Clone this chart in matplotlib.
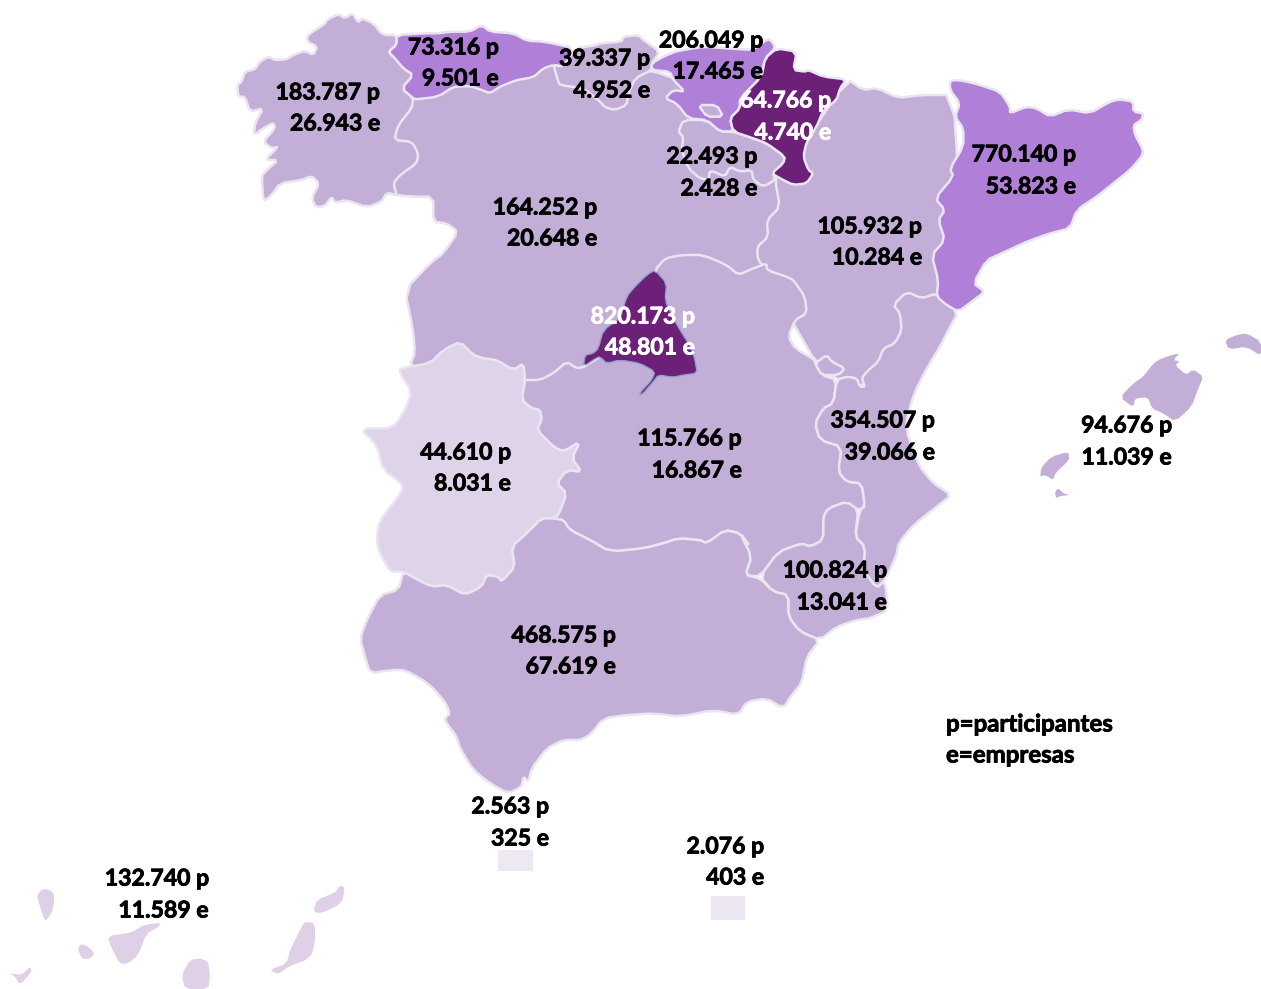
import matplotlib
matplotlib.use("Agg")
import matplotlib.pyplot as plt
import matplotlib.patheffects as pe
from matplotlib.patches import Polygon, Rectangle

# ---------- text data ----------
regions = ["Galicia","Asturias","Cantabria","País Vasco","Navarra","La Rioja","Castilla y León","Aragón",
           "Cataluña","Madrid","C. Valenciana","Baleares","Extremadura","Castilla-La Mancha","Murcia",
           "Andalucía","Ceuta","Melilla","Canarias"]
participantes = ["183.787","73.316","39.337","206.049","64.766","22.493","164.252","105.932",
                 "770.140","820.173","354.507","94.676","44.610","115.766","100.824",
                 "468.575","2.563","2.076","132.740"]
empresas = ["26.943","9.501","4.952","17.465","4.740","2.428","20.648","10.284",
            "53.823","48.801","39.066","11.039","8.031","16.867","13.041",
            "67.619","325","403","11.589"]
label_right = [380,499,650,763,831,757,597,922,1076,695,935,1172,511,742,887,616,549,764,209]
label_y1 = [92,47,58,40,100,156,207,226,154,316,420,425,452,438,570,635,806,846,878]
label_y2 = [123,78,90,71,132,188,238,257,186,347,452,457,483,470,602,666,838,877,910]
white_labels = ["Navarra","Madrid"]
legend_lines = ["p=participantes","e=empresas"]

# ---------- colours ----------
C_MID = "#C2AED6"; C_HIGH = "#B07FD7"; C_TOP = "#6C2077"; C_LOW = "#DFD3E9"
C_CAN = "#DFD0E7"; C_CEU = "#EEE8F3"; C_MEL = "#ECE6F2"; EDGE = "#EAE5F0"

def z(x0, y0, pts):
    return [(x0 + a/3, y0 + b/3) for a, b in pts]
def z1(p): return z(230, 0, p)
def z2(p): return z(620, 20, p)
def z3(p): return z(0, 860, p)
def z4(p): return z(1020, 320, p)
def z5(p): return z(740, 280, p)
def z6(p): return z(350, 330, p)
def z7(p): return z(560, 20, p)
def z8(p): return z(350, 560, p)
def z9(p): return z(930, 70, p)
def z10(p): return z(570, 260, p)

def soften(pts, ratio=0.2):
    out = []
    n = len(pts)
    for i in range(n):
        (x0, y0), (x1, y1) = pts[i], pts[(i + 1) % n]
        out.append((x0 + (x1 - x0) * ratio, y0 + (y1 - y0) * ratio))
        out.append((x1 - (x1 - x0) * ratio, y1 - (y1 - y0) * ratio))
    return out

# ---------- outlines ----------
galicia = z1([(500,105),(458,105),(430,70),(395,55),(385,68),(368,40),(345,55),(325,42),(290,60),(285,72),(255,90),(232,108),(232,125),(262,140),(250,165),(225,152),(190,165),(170,178),(135,180),(115,170),(90,185),(75,208),(45,215),(35,245),(22,255),(25,290),(45,290),(60,335),(100,325),(75,370),(72,405),(100,385),(130,368),(135,385),(100,425),(125,445),(145,440),(105,480),(145,480),(105,515),(95,530),(100,605),(125,585),(150,550),(215,540),(245,528),(268,550),(245,595),(258,622),(285,618),(305,590),(315,608),(350,600),(410,622),(455,605),(470,578),(500,585),(490,550),(510,525),(560,490),(565,460),(545,425),(492,420),(505,375),(545,325),(550,295),(515,265),(550,225),(520,205),(495,175),(475,155),(500,135)])
asturias = z1([(500,105),(580,100),(625,100),(660,95),(720,95),(755,75),(780,95),(850,100),(890,122),(945,125),(1035,145),(1000,200),(970,195),(940,205),(910,232),(860,240),(810,260),(780,280),(755,270),(720,258),(670,260),(625,290),(560,298),(550,295),(515,265),(550,225),(520,205),(495,175),(475,155),(500,135)])
cantabria = z1([(1035,145),(1100,135)]) + z7([(120,70),(185,65),(190,50),(235,45),(250,60),(300,95),(275,130),(275,150),(225,175),(205,220),(200,255),(165,270),(135,262),(115,240),(70,205),(0,195)]) + z1([(985,245),(970,195),(1000,200)])
pais_vasco = z7([(275,130),(310,110),(345,95),(370,90),(430,80),(500,85),(580,90),(625,55),(640,70)]) + z2([(465,85),(435,115),(425,170),(360,235),(360,265),(330,295),(340,335),(300,335),(260,300),(205,295),(170,250),(135,235),(160,210),(195,215),(160,180)]) + z7([(330,155),(275,150)])
trevino = z7([(415,255),(470,255),(490,290),(440,290)])
navarra = z2([(470,85),(530,95),(520,150),(555,155),(565,150),(610,170),(680,178),(660,205),(650,240),(610,270),(590,320),(560,365),(550,410),(565,450),(580,460),(560,490),(520,495),(480,475),(455,460),(490,430),(495,410),(440,370),(400,355),(340,335),(330,295),(360,265),(360,235),(425,170),(435,115)])
rioja = z2([(190,300),(260,300),(300,335),(340,335),(400,355),(440,370),(495,410),(490,430),(460,460),(465,480),(430,500),(400,480),(395,450),(360,455),(330,440),(315,470),(270,450),(265,480),(240,475),(205,445),(185,390),(190,350),(175,335)])
aragon = [(847,79),(863,90),(877,88),(898,98),(920,95),(953,95),(960,200),(945,300),(900,360),(860,390),(820,370),(780,300),(750,260),(770,180),(800,150)]
cyl = [(400,100),(460,60),(560,60),(680,75),(700,110),(720,150),(780,160),(775,180),(780,207),(767,220),(768,237),(757,247),(758,260),(767,270),(700,300),(600,380),(520,385),(430,380),(410,365),(415,353),(413,330)] + z1([(525,870),(600,790),(640,760),(685,695),(650,670),(610,665),(610,590),(545,590),(500,585),(470,578)]) + [(390,185),(380,140)]
clm = z2([(440,750),(440,730),(400,745),(355,765),(320,735),(250,705),(185,705),(135,715),(105,750)]) + [(640,330)] + z6([(705,110),(680,115),(650,95),(610,130),(570,150),(530,150),(525,150),(515,210),(545,235),(570,240),(575,270),(560,300),(610,350),(640,365),(690,335),(665,385),(695,425),(650,420),(620,460),(650,490),(625,555),(610,565),(640,570),(660,600),(720,630),(780,665),(880,655),(940,640),(985,625),(1050,630),(1070,640),(1125,600),(1170,610),(1200,650)]) + z5([(0,760),(35,830),(15,885),(60,890),(115,815),(185,790),(210,800),(250,780),(250,710),(265,685),(320,665),(355,690),(375,680),(365,610),(320,605),(295,575),(305,500),(240,480),(225,430),(250,385),(280,370),(290,300),(245,285),(225,250),(225,240),(165,205),(145,170),(165,120),(200,100),(195,50),(160,0)]) + z2([(500,770)])
valencia = z5([(590,40),(655,95),(625,150),(600,200),(560,265),(520,345),(495,440),(535,555),(580,610),(635,645),(590,680),(520,735),(475,790),(470,825),(435,900),(410,925),(370,870),(375,800),(345,770),(360,690),(375,680),(365,610),(320,605),(295,575),(305,500),(240,480),(225,430),(250,385),(280,370),(290,300),(320,290),(350,295),(360,320),(375,320),(365,295),(380,275),(415,245),(430,205),(465,190),(485,150),(480,100),(460,75),(500,35),(545,55)])
ademuz = z5([(225,250),(260,225),(275,245),(315,265),(295,285),(245,285)])
murcia = z5([(60,890),(115,815),(185,790),(210,800),(250,780),(250,710),(265,685),(320,665),(355,690),(345,770),(375,800),(370,870),(410,925),(435,900),(445,990),(390,1015),(350,1020),(290,1040),(240,1080),(180,1055),(145,1010),(145,945),(100,935)])
extremadura = z6([(150,115),(240,100),(280,60),(330,35),(370,75),(400,85),(440,90),(490,120),(520,100),(525,150),(515,210),(545,235),(570,240),(575,270),(560,300),(610,350),(640,365),(690,335),(665,385),(695,425),(650,420),(620,460),(650,490),(625,555),(610,565),(575,565),(530,610),(485,650),(495,710),(455,755),(445,740),(410,735),(395,770),(345,795),(290,765),(245,770),(195,745),(160,725),(120,725),(85,660),(80,620),(90,570),(160,480),(150,455),(100,420),(80,345),(30,295),(130,295),(165,240),(185,185),(150,130)])
andalucia = z6([(160,725),(195,745),(245,770),(290,765),(345,795),(395,770),(410,735),(445,740),(455,755),(495,710),(485,650),(530,610),(575,565),(610,565),(640,570),(660,600),(720,630),(780,665),(880,655),(940,640),(985,625),(1050,630),(1070,640),(1125,600),(1170,610),(1200,650)]) + z5([(0,760),(35,830),(15,885),(60,895),(100,935),(145,945),(145,1010),(180,1055),(240,1080)]) + z8([(1370,290),(1355,370),(1325,405),(1300,445),(1250,415),(1190,425),(1165,465),(1090,450),(990,470),(910,460),(830,465),(760,475),(720,525),(690,540),(640,540),(590,565),(545,625),(535,665),(520,650),(515,680),(475,700),(420,670),(370,630),(330,565),(320,530),(290,490),(285,475),(300,460),(285,425),(235,370),(165,330),(125,330),(60,340),(45,290),(30,235),(50,180),(90,105),(145,90)])
cataluna = z9([(60,30),(100,32),(150,45),(210,65),(240,110),(240,130),(290,110),(320,115),(360,140),(415,118),(480,130),(540,95),(570,88),(610,95),(610,125),(640,130),(635,150),(610,165),(615,195),(640,240),(635,260),(600,300),(550,340),(500,380),(440,420),(420,475),(360,490),(290,515),(215,550),(170,570),(130,640),(165,665),(125,695),(85,725),(50,705),(20,680),(25,630),(5,555),(45,510),(25,450),(45,420),(15,385),(70,320),(60,295),(100,230),(100,175),(75,140),(90,100),(60,60)])
madrid = z10([(255,30),(290,70),(285,120),(305,165),(330,210),(365,265),(375,300),(382,340),(340,345),(310,352),(265,345),(250,365),(215,405),(208,400),(245,360),(255,335),(210,310),(150,300),(110,310),(95,295),(85,290),(40,320),(45,285),(70,280),(85,265),(100,210),(150,175),(170,110),(190,85),(230,45)])
mallorca = z4([(480,98),(425,115),(400,130),(370,170),(340,190),(300,232),(340,262),(345,235),(385,232),(395,265),(430,280),(465,305),(515,260),(535,205),(550,170),(520,148),(498,165),(465,135),(480,125),(460,120)])
menorca = z4([(615,60),(650,45),(680,40),(723,65),(723,108),(680,80),(625,88)])
ibiza = z4([(60,470),(65,440),(95,410),(145,395),(148,420),(105,460),(100,480),(75,465)])
formentera = z4([(105,515),(115,505),(130,520),(150,525),(120,528),(108,535)])
la_palma = z3([(110,105),(130,85),(160,95),(163,125),(155,160),(135,185),(120,140)])
la_gomera = z3([(232,265),(245,252),(265,260),(285,282),(265,298),(245,295)])
tenerife = z3([(322,228),(395,218),(430,195),(485,188),(470,205),(440,220),(415,285),(385,310),(360,312),(335,265)])
gran_canaria = z3([(545,345),(570,300),(600,295),(625,305),(630,350),(625,387),(555,387)])
fuerteventura = z3([(808,330),(860,310),(870,270),(905,200),(915,185),(945,190),(945,250),(930,295),(865,320),(835,343)])
lanzarote = z3([(940,155),(950,120),(1005,98),(1022,75),(1035,85),(1025,130),(965,160)])
el_hierro = z3([(30,340),(65,345),(90,320),(95,335),(60,375),(45,350)])

# ---------- drawing ----------
plt.rcParams['font.family'] = ['Lato', 'DejaVu Sans']
fig = plt.figure(figsize=(12.61, 9.89), dpi=100)
ax = fig.add_axes([0, 0, 1, 1])
ax.set_xlim(0, 1261); ax.set_ylim(989, 0); ax.axis("off")

layers = [(aragon,C_MID),(cyl,C_MID),(clm,C_MID),(galicia,C_MID),(asturias,C_HIGH),(cantabria,C_MID),
          (pais_vasco,C_HIGH),(trevino,C_MID),(rioja,C_MID),(navarra,C_TOP),(valencia,C_MID),(ademuz,C_MID),
          (murcia,C_MID),(extremadura,C_LOW),(andalucia,C_MID),(cataluna,C_HIGH)]
for pts, col in layers:
    ax.add_patch(Polygon(soften(pts), closed=True, facecolor=col, edgecolor=EDGE, lw=1.8, joinstyle="round"))
ax.add_patch(Polygon(soften(madrid), closed=True, facecolor=C_TOP, edgecolor="#8FA3CC", lw=1.0))
for pts in (mallorca, menorca, ibiza, formentera):
    ax.add_patch(Polygon(soften(pts), closed=True, facecolor=C_MID, edgecolor="none"))
for pts in (la_palma, la_gomera, tenerife, gran_canaria, fuerteventura, lanzarote, el_hierro):
    ax.add_patch(Polygon(soften(pts), closed=True, facecolor=C_CAN, edgecolor="none"))
ax.add_patch(Rectangle((498, 850), 35, 21, facecolor=C_CEU, edgecolor="none"))
ax.add_patch(Rectangle((711, 896), 34, 24, facecolor=C_MEL, edgecolor="none"))

FS = 16.6
def label(x, y, s, col, ha, fs):
    t = ax.text(x, y + 1, s, ha=ha, va="center", fontsize=fs, fontweight="bold", color=col, zorder=10)
    t.set_path_effects([pe.withStroke(linewidth=0.6, foreground=col)])

for name, p, e, rx, y1, y2 in zip(regions, participantes, empresas, label_right, label_y1, label_y2):
    col = "white" if name in white_labels else "black"
    label(rx, y1, f"{p} p", col, "right", FS)
    label(rx, y2, f"{e} e", col, "right", FS)
label(946, 723, legend_lines[0], "black", "left", 17.3)
label(946, 754, legend_lines[1], "black", "left", 17.3)

fig.savefig("out.png", dpi=100, facecolor="white")
